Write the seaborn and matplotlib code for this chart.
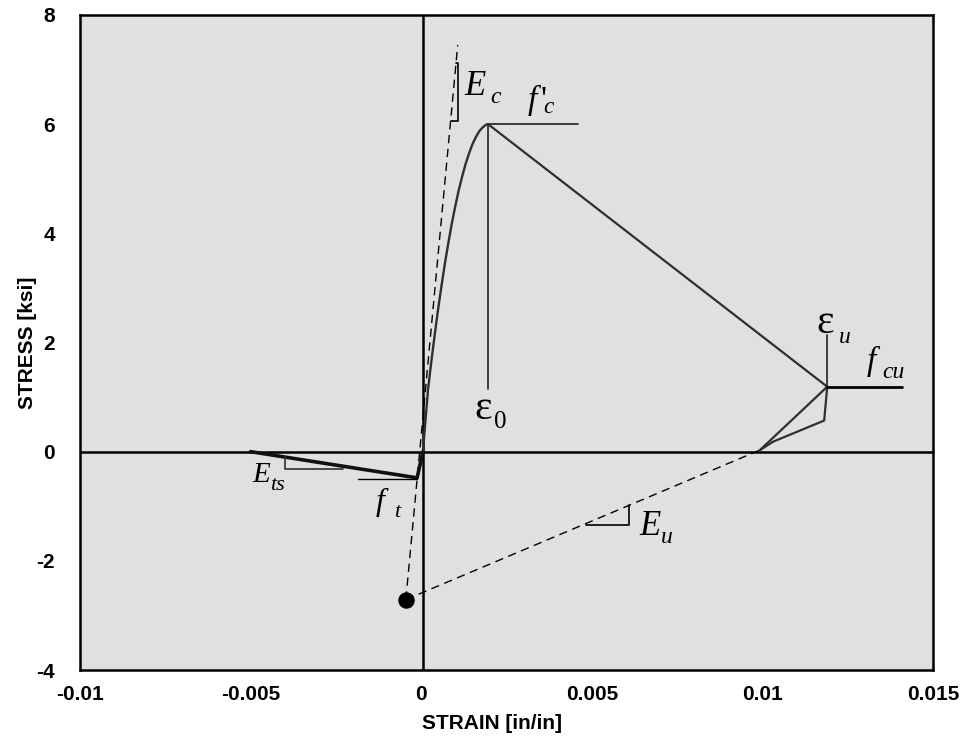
import matplotlib
matplotlib.use("Agg")
import matplotlib.pyplot as plt
import seaborn as sns
import numpy as np

# ---------------- data ----------------
asc_strain = [-0.00012, 0.00005, 0.0002, 0.0003, 0.0004, 0.0005, 0.0006, 0.0007, 0.0008,
              0.0009, 0.0010, 0.0011, 0.0012, 0.0013, 0.0014, 0.0015, 0.0016, 0.0017,
              0.0018, 0.0019, 0.00196]
asc_stress = [-0.48, 0.0, 1.14, 1.67, 2.16, 2.63, 3.06, 3.47, 3.84,
              4.19, 4.50, 4.79, 5.04, 5.27, 5.46, 5.63, 5.76, 5.87,
              5.94, 5.99, 6.00]

desc_strain = [0.00196, 0.0119]
desc_stress = [6.00, 1.19]

tens_strain = [-0.0050, -0.00012, 0.00005]
tens_stress = [0.0, -0.48, 0.0]

unload_strain = [0.0119, 0.00993]
unload_stress = [1.19, 0.03]

reload_strain = [0.00993, 0.01032, 0.01181, 0.0119]
reload_stress = [0.03, 0.185, 0.57, 1.19]

ec_strain = [-0.00045, 0.00107]
ec_stress = [-2.71, 7.45]

eu_strain = [-0.00045, 0.00993]
eu_stress = [-2.71, 0.03]

dot_strain = [-0.00045]
dot_stress = [-2.71]

x_ticks = [-0.01, -0.005, 0, 0.005, 0.01, 0.015]
x_ticklabels = ["-0.01", "-0.005", "0", "0.005", "0.01", "0.015"]
y_ticks = [-4, -2, 0, 2, 4, 6, 8]
y_ticklabels = ["-4", "-2", "0", "2", "4", "6", "8"]

# ---------------- style ----------------
sns.set_theme(style="white")
plt.rcParams["font.family"] = ["Liberation Sans", "DejaVu Sans"]
plt.rcParams["axes.linewidth"] = 1.8
plt.rcParams["mathtext.fontset"] = "custom"
plt.rcParams["mathtext.rm"] = "Liberation Serif"
plt.rcParams["mathtext.it"] = "Liberation Serif:italic"
plt.rcParams["mathtext.bf"] = "Liberation Serif:bold"

W, H = 964, 744
fig = plt.figure(figsize=(W / 100, H / 100), dpi=100)
L, R, T, B = 80, 933, 15, 670
ax = fig.add_axes([L / W, 1 - B / H, (R - L) / W, (B - T) / H])
ax.set_facecolor("#e0e0e0")
ax.set_xlim(-0.01, 0.015)
ax.set_ylim(-4, 8)

# axes through origin
ax.axhline(0, color="black", lw=1.8, zorder=2)
ax.axvline(0.00006, color="black", lw=1.8, zorder=2)

curve = "#2f2f2f"
sns.lineplot(x=asc_strain, y=asc_stress, sort=False, estimator=None, ax=ax,
             color=curve, lw=1.7, zorder=4)
sns.lineplot(x=desc_strain, y=desc_stress, sort=False, estimator=None, ax=ax,
             color=curve, lw=1.6, zorder=4)
sns.lineplot(x=tens_strain, y=tens_stress, sort=False, estimator=None, ax=ax,
             color="#111111", lw=2.6, zorder=4)
sns.lineplot(x=unload_strain, y=unload_stress, sort=False, estimator=None, ax=ax,
             color=curve, lw=1.6, zorder=4)
sns.lineplot(x=reload_strain, y=reload_stress, sort=False, estimator=None, ax=ax,
             color=curve, lw=1.6, zorder=4)
sns.lineplot(x=ec_strain, y=ec_stress, sort=False, estimator=None, ax=ax,
             color="black", lw=1.0, linestyle=(0, (6, 4)), zorder=3)
sns.lineplot(x=eu_strain, y=eu_stress, sort=False, estimator=None, ax=ax,
             color="black", lw=1.0, linestyle=(0, (6, 4)), zorder=3)
sns.scatterplot(x=dot_strain, y=dot_stress, ax=ax, color="black", s=120,
                edgecolor="black", zorder=5)

# annotation guide lines
thin = dict(color="#2f2f2f", lw=1.3, zorder=4)
ax.plot([0.00196, 0.0046], [6.0, 6.0], **thin)            # f'c
ax.plot([0.00196, 0.00196], [6.0, 1.15], **thin)          # eps0
ax.plot([0.0119, 0.0119], [1.19, 2.14], **thin)           # eps_u
ax.plot([0.0119, 0.0141], [1.19, 1.19], color="black", lw=2.0, zorder=4)  # f_cu
ax.plot([-0.00185, -0.00012], [-0.5, -0.5], color="black", lw=1.0, zorder=4)  # f_t
ax.plot([0.00087, 0.00107, 0.00107, 0.00101], [6.06, 6.06, 7.12, 7.12],
        color="black", lw=1.2, zorder=4)                  # Ec triangle
ax.plot([-0.004, -0.004, -0.0023], [-0.10, -0.32, -0.32],
        color="#2f2f2f", lw=1.2, zorder=4)                # Ets triangle
ax.plot([0.00483, 0.00609, 0.00609], [-1.34, -1.34, -0.98],
        color="black", lw=1.2, zorder=4)                  # Eu triangle

# ---------------- symbol labels ----------------
serif = ["Liberation Serif", "DejaVu Serif"]


def px(xp, yp):
    return ((xp - L) / (R - L), (B - yp) / (B - T))


def lab(xp, yp, s, size, italic=True):
    x, y = px(xp, yp)
    ax.text(x, y, s, transform=ax.transAxes, fontsize=size, family=serif,
            style="italic" if italic else "normal", ha="left", va="baseline",
            color="black", zorder=6)


lab(464, 95, "E", 25); lab(490, 103, "c", 17)
lab(527, 109, r"$f\/'_{\!c}$", 24)
lab(474, 419, "\u03b5", 30, italic=False); lab(494, 428, "0", 18, italic=False)
lab(816, 333, "\u03b5", 30, italic=False); lab(839, 343, "u", 17)
lab(867, 370, "f", 24); lab(882, 378, "cu", 17)
lab(252, 482, "E", 21); lab(270, 490, "ts", 16)
lab(376, 510, "f", 23); lab(394, 517, "t", 16)
lab(639, 535, "E", 25); lab(661, 543, "u", 17)

# ---------------- axes formatting ----------------
ax.set_xticks(x_ticks)
ax.set_xticklabels(x_ticklabels)
ax.set_yticks(y_ticks)
ax.set_yticklabels(y_ticklabels)
ax.tick_params(axis="both", direction="in", length=11, width=0.9,
               color="#555555", labelsize=15, labelcolor="black",
               top=False, right=False)
ax.tick_params(axis="x", pad=11)
ax.tick_params(axis="y", pad=18)
for lbl in ax.get_xticklabels() + ax.get_yticklabels():
    lbl.set_fontweight("bold")
for sp in ax.spines.values():
    sp.set_color("black")
    sp.set_linewidth(1.8)
    sp.set_visible(True)

ax.set_xlabel("STRAIN [in/in]", fontsize=15, fontweight="bold", color="black")
ax.set_ylabel("STRESS [ksi]", fontsize=15, fontweight="bold", color="black")
ax.xaxis.set_label_coords((492 - L) / (R - L), -(714 - B) / (B - T))
ax.yaxis.set_label_coords(-(L - 37) / (R - L), 0.5)

fig.savefig("out.png", dpi=100)
